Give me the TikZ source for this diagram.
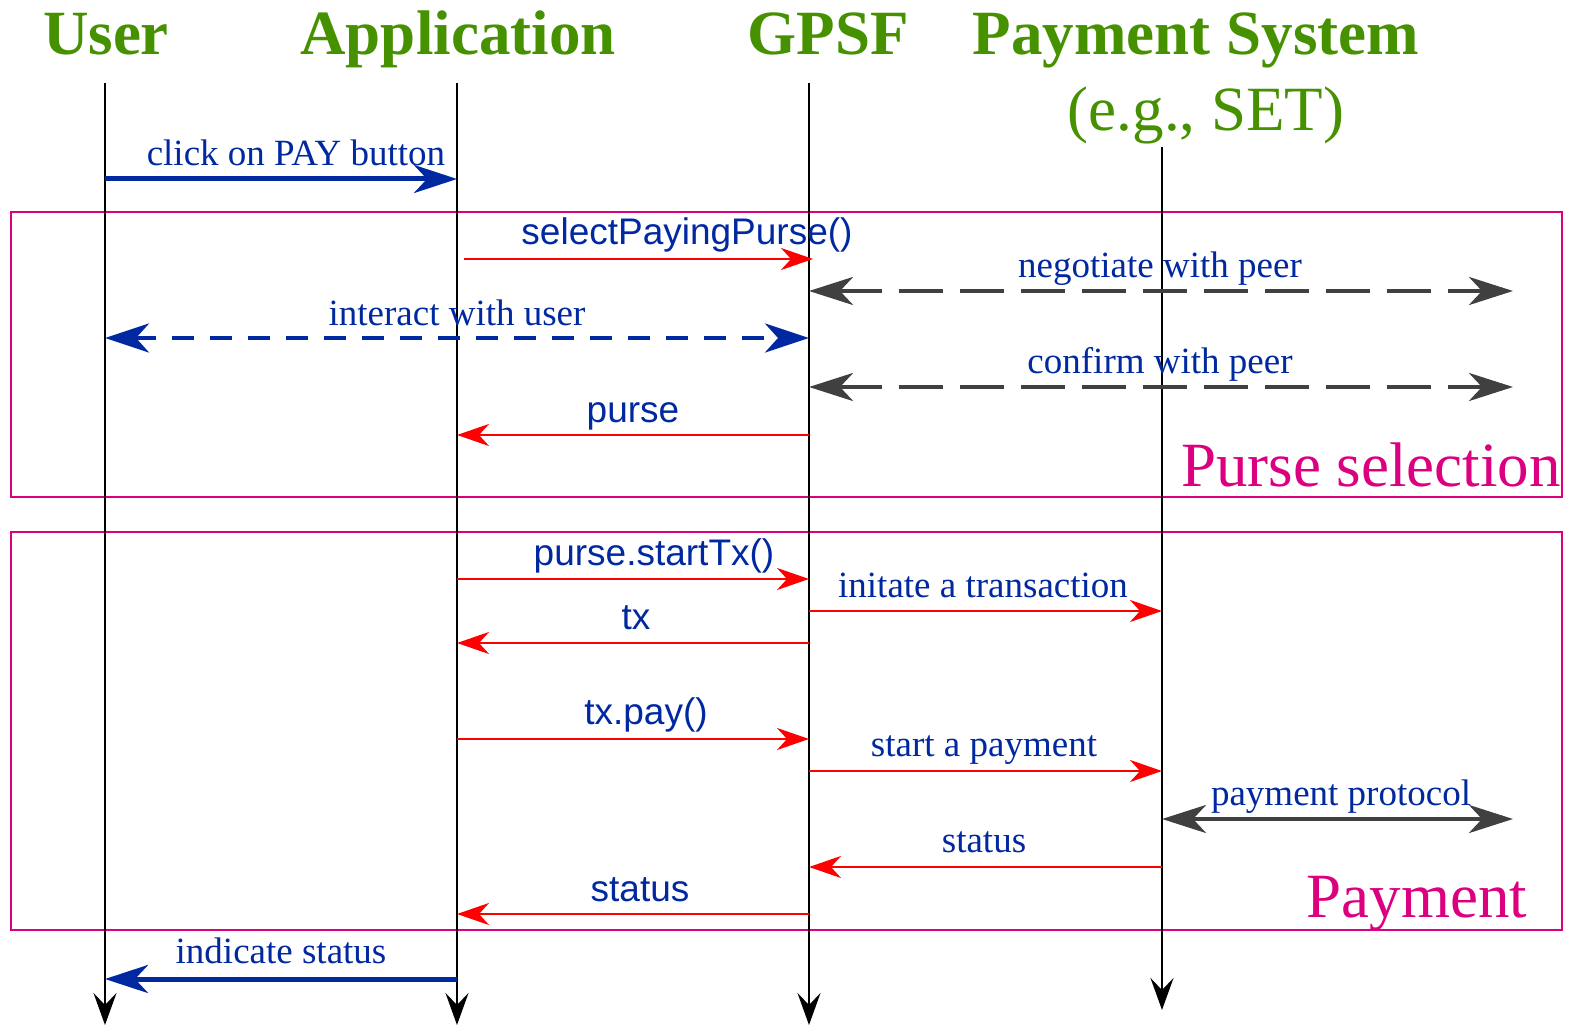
\documentclass[tikz,border=0pt]{standalone}
\usepackage{fontspec}
\setmainfont{Liberation Serif}
\setsansfont{Liberation Sans}
\usetikzlibrary{arrows.meta}
\definecolor{titlegreen}{RGB}{70,145,0}
\definecolor{msgblue}{RGB}{0,40,160}
\definecolor{boxpink}{RGB}{220,0,128}
\definecolor{peergray}{RGB}{64,64,64}
\definecolor{callred}{RGB}{255,0,0}
\begin{document}
\begin{tikzpicture}[x=1pt,y=-1pt,
  title/.style={text=titlegreen, font=\fontsize{63}{66}\selectfont\bfseries, anchor=base, inner sep=0},
  subtitle/.style={text=titlegreen, font=\fontsize{63}{66}\selectfont, anchor=base, inner sep=0},
  lbl/.style={text=msgblue, font=\fontsize{37}{40}\selectfont, anchor=base, inner sep=0},
  slbl/.style={text=msgblue, font=\fontsize{37}{40}\selectfont\sffamily, anchor=base, inner sep=0},
  phase/.style={text=boxpink, font=\fontsize{63}{66}\selectfont, anchor=base, inner sep=0},
  phasebox/.style={draw=boxpink, line width=2pt},
  lifeline/.style={draw=black, line width=2.5pt, -{Stealth[length=32pt,width=23pt,inset=12pt]}},
  call/.style={draw=callred, line width=2.5pt, -{Stealth[length=32pt,width=22pt,inset=10pt]}},
  usermsg/.style={draw=msgblue, line width=5pt, -{Stealth[length=43pt,width=28pt,inset=13pt]}},
  userdash/.style={draw=msgblue, line width=4pt, dash pattern=on 22pt off 16pt,
    {Stealth[length=44pt,width=29pt,inset=13pt]}-{Stealth[length=44pt,width=29pt,inset=13pt]}},
  peer/.style={draw=peergray, line width=4.5pt,
    {Stealth[length=44pt,width=28pt,inset=13pt]}-{Stealth[length=44pt,width=28pt,inset=13pt]}},
  peerdash/.style={peer, dash pattern=on 44pt off 17pt}
]
\useasboundingbox (0,0) rectangle (1573,1032);

% phase frames
\draw[phasebox] (11,212) rectangle (1562,497);
\draw[phasebox] (11,532) rectangle (1562,930);
\node[phase, anchor=base east] (purseSel) at (1561,486) {Purse selection};
\node[phase] (payPhase) at (1417,917) {Payment};

% participants
\node[title] (userT) at (106,55) {User};
\node[title] (appT) at (458,55) {Application};
\node[title] (gpsfT) at (828,55) {GPSF};
\node[title] (psT) at (1196,55) {Payment System};
\node[subtitle] (psSub) at (1206,131) {(e.g., SET)};

% lifelines
\coordinate (uTop) at (105,83);   \coordinate (uBot) at (105,1025);
\coordinate (aTop) at (457,83);   \coordinate (aBot) at (457,1025);
\coordinate (gTop) at (809,83);   \coordinate (gBot) at (809,1025);
\coordinate (pTop) at (1162,147); \coordinate (pBot) at (1162,1010);
\draw[lifeline] (uTop) -- (uBot);
\draw[lifeline] (aTop) -- (aBot);
\draw[lifeline] (gTop) -- (gBot);
\draw[lifeline] (pTop) -- (pBot);

% message end points
\coordinate (m1a) at (105,179);  \coordinate (m1b) at (457,179);
\coordinate (m2a) at (464,259);  \coordinate (m2b) at (813,259);
\coordinate (m3a) at (809,291);  \coordinate (m3b) at (1513,291);
\coordinate (m4a) at (105,338);  \coordinate (m4b) at (809,338);
\coordinate (m5a) at (809,387);  \coordinate (m5b) at (1513,387);
\coordinate (m6a) at (809,435);  \coordinate (m6b) at (457,435);
\coordinate (m7a) at (457,579);  \coordinate (m7b) at (809,579);
\coordinate (m8a) at (809,611);  \coordinate (m8b) at (1162,611);
\coordinate (m9a) at (809,643);  \coordinate (m9b) at (457,643);
\coordinate (m10a) at (457,739); \coordinate (m10b) at (809,739);
\coordinate (m11a) at (809,771); \coordinate (m11b) at (1162,771);
\coordinate (m12a) at (1162,819);\coordinate (m12b) at (1513,819);
\coordinate (m13a) at (1162,867);\coordinate (m13b) at (809,867);
\coordinate (m14a) at (809,914); \coordinate (m14b) at (457,914);
\coordinate (m15a) at (457,979); \coordinate (m15b) at (105,979);

% messages
\draw[usermsg] (m1a) -- (m1b);
\draw[call] (m2a) -- (m2b);
\draw[peerdash] (m3a) -- (m3b);
\draw[userdash] (m4a) -- (m4b);
\draw[peerdash] (m5a) -- (m5b);
\draw[call] (m6a) -- (m6b);
\draw[call] (m7a) -- (m7b);
\draw[call] (m8a) -- (m8b);
\draw[call] (m9a) -- (m9b);
\draw[call] (m10a) -- (m10b);
\draw[call] (m11a) -- (m11b);
\draw[peer] (m12a) -- (m12b);
\draw[call] (m13a) -- (m13b);
\draw[call] (m14a) -- (m14b);
\draw[usermsg] (m15a) -- (m15b);

% message labels
\node[lbl] (l1) at (296,166) {click on PAY button};
\node[slbl] (l2) at (687,245) {selectPayingPurse()};
\node[lbl] (l3) at (1160,277) {negotiate with peer};
\node[lbl] (l4) at (457,325) {interact with user};
\node[lbl] (l5) at (1160,373) {confirm with peer};
\node[slbl] (l6) at (633,422) {purse};
\node[slbl] (l7) at (654,565) {purse.startTx()};
\node[lbl] (l8) at (983,597) {initate a transaction};
\node[slbl] (l9) at (636,629) {tx};
\node[slbl] (l10) at (646,724) {tx.pay()};
\node[lbl] (l11) at (984,756) {start a payment};
\node[lbl] (l12) at (1341,805) {payment protocol};
\node[lbl] (l13) at (984,852) {status};
\node[slbl] (l14) at (640,901) {status};
\node[lbl] (l15) at (281,963) {indicate status};
\end{tikzpicture}
\end{document}
